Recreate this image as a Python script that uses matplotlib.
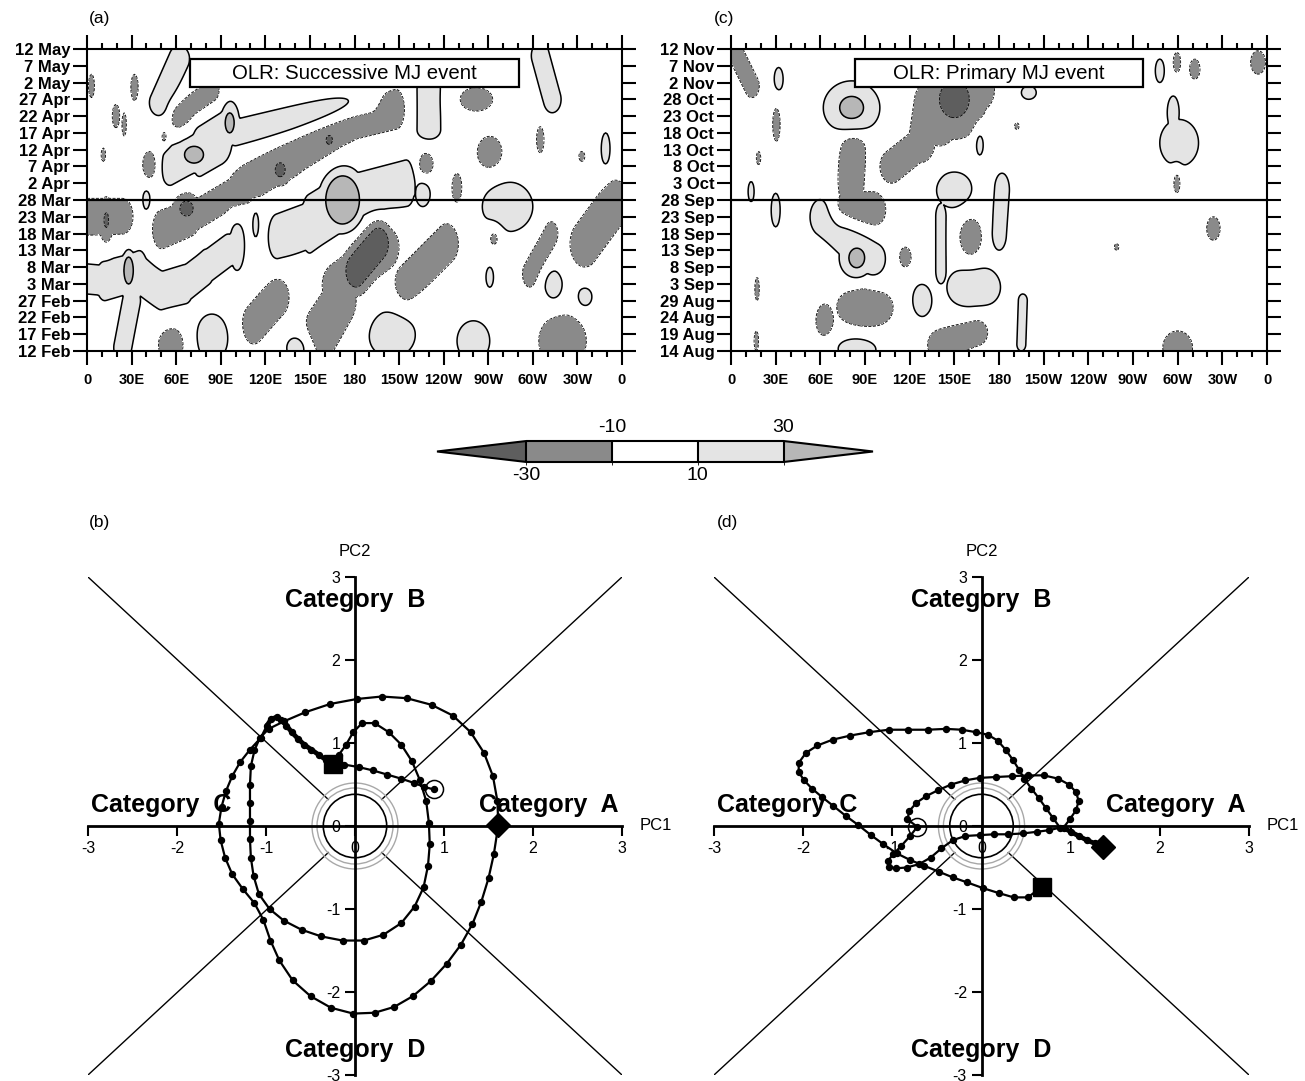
import numpy as np
import matplotlib
matplotlib.use("Agg")
import matplotlib.pyplot as plt
from matplotlib.colors import ListedColormap, BoundaryNorm
from matplotlib.patches import Rectangle, Ellipse
from matplotlib.transforms import blended_transform_factory

plt.rcParams["font.family"] = ["Liberation Sans", "DejaVu Sans"]
plt.rcParams["axes.unicode_minus"] = False

# ---------------------------------------------------------------- data
lon_labels = ["0", "30E", "60E", "90E", "120E", "150E", "180",
              "150W", "120W", "90W", "60W", "30W", "0"]
dates_a = ["12 Feb", "17 Feb", "22 Feb", "27 Feb", "3 Mar", "8 Mar", "13 Mar",
           "18 Mar", "23 Mar", "28 Mar", "2 Apr", "7 Apr", "12 Apr", "17 Apr",
           "22 Apr", "27 Apr", "2 May", "7 May", "12 May"]
dates_c = ["14 Aug", "19 Aug", "24 Aug", "29 Aug", "3 Sep", "8 Sep", "13 Sep",
           "18 Sep", "23 Sep", "28 Sep", "3 Oct", "8 Oct", "13 Oct", "18 Oct",
           "23 Oct", "28 Oct", "2 Nov", "7 Nov", "12 Nov"]
olr_levels = [-30, -10, 10, 30]

# OLR anomaly features (W m-2): lon0, day0, lon1, day1, lon radius, day radius, peak
olr_a = [
    # enhanced (positive) anomalies
    (49, 74, 62, 87, 7, 4, 20),
    (56, 55, 76, 60, 6, 6, 22), (76, 60, 92, 64, 6, 8.5, 22), (72, 58.5, 72, 58.5, 14, 5.5, 40),
    (96, 68, 96, 68, 6.6, 6.6, 40), (100, 65, 190, 74.5, 6, 4, 21),
    (230, 66, 230, 78, 8, 3, 20), (313, 75, 305, 88, 6, 4, 20), (349, 60, 349, 60, 3, 5, 18),
    (40, 45, 40, 45, 2.5, 3, 18), (113.5, 38, 113.5, 38, 2, 4, 18),
    (128, 34, 150, 37.5, 6, 7, 22), (150, 38, 172, 44, 6, 9, 22), (172, 45, 215, 50, 6, 7, 22),
    (226, 47, 226, 47, 5, 4, 18), (172, 45, 172, 45, 16.5, 10.5, 80),
    (283, 43, 283, 43, 17, 7.5, 22), (271, 22, 271, 22, 2.5, 3, 18),
    (314, 19.5, 314, 19.5, 6, 4.5, 20), (335, 16, 335, 16, 5, 3, 20), (205, 5, 205, 5, 16, 7, 20),
    (260, 3, 260, 3, 11, 6, 20), (142, 1, 142, 1, 8, 4, 20), (84, 4, 84, 4, 11, 7, 20),
    (0, 21.5, 12, 21, 6, 4.5, 21), (12, 21, 35, 24, 6, 6, 21), (35, 23, 50, 18, 6, 6, 21),
    (50, 18, 66, 20, 6, 6, 21), (66, 20, 80, 25, 6, 5.5, 21), (80, 25, 95, 30, 6, 5, 21),
    (101, 31.5, 101, 31.5, 5, 7.5, 21), (24, 1, 30, 15, 6, 4, 20), (28, 24, 28, 24, 5, 6.5, 60),
    # suppressed (negative) anomalies
    (62, 70, 84, 77, 6, 4, -20),
    (50, 36, 70, 40, 6, 6, -22), (70, 40, 100, 48, 6, 5, -22), (100, 48, 140, 58, 6, 6, -22),
    (140, 58, 180, 69, 6, 6, -22), (180, 69, 208, 72, 6, 6, -22),
    (67, 42.5, 67, 42.5, 10, 5, -40), (130, 54, 130, 54, 8, 5, -38), (163, 63, 163, 63, 6, 4, -36),
    (112, 8, 128, 16, 8, 6, -22), (158, 6, 170, 14, 12, 8, -22), (168, 20, 200, 31, 10, 7, -24),
    (181, 24, 196, 32, 11, 8, -60), (215, 20, 242, 32, 8, 6, -22),
    (262, 75, 262, 75, 11, 3.5, -20), (228, 55.5, 228, 55.5, 5, 3.5, -20), (271, 59, 271, 59, 8.5, 5, -20),
    (305, 63, 305, 63, 2.5, 4, -18), (333, 58, 333, 58, 2, 1.5, -16), (249, 48.5, 249, 48.5, 3.5, 4.5, -18),
    (335, 32, 355, 44, 10, 7, -22), (0, 40, 24, 40, 7, 5.5, -22), (13, 39, 13, 39, 5, 7, -34),
    (274, 34, 274, 34, 4, 3, -18), (298, 23, 312, 35, 5, 4, -20), (320, 3, 320, 3, 16, 8, -22),
    (3, 79, 3, 79, 2, 3.5, -18), (32, 78.5, 32, 78.5, 2.5, 4, -18), (19.5, 70, 19.5, 70, 2.5, 3.5, -18),
    (25, 67.5, 25, 67.5, 1.5, 3.5, -15), (11, 58.5, 11, 58.5, 1.5, 2, -15), (42, 55.5, 42, 55.5, 4.5, 4, -20),
    (52, 63.5, 52, 63.5, 2, 2, -16), (57, 2, 57, 2, 9, 5, -20),
]
olr_c = [
    (81, 72.5, 81, 72.5, 19, 8, 38), (32, 81, 32, 81, 3, 3.5, 18), (13.5, 47.5, 13.5, 47.5, 2, 3, 16),
    (30, 42, 30, 42, 3, 5, 17), (62, 40, 95, 27, 9, 6, 22), (84.5, 27.6, 84.5, 27.6, 12, 7, 40),
    (128, 15, 128, 15, 7, 5, 20), (85, 1, 85, 1, 14, 4, 20), (150, 48, 150, 48, 12, 5.5, 20),
    (141, 24, 141, 40, 3.5, 4, 17), (180, 35, 182, 48, 5, 5, 18), (163, 19, 163, 19, 18, 7, 22),
    (167, 62, 167, 62, 3, 4, 18), (195, 2, 196, 15, 3, 2, 18), (200, 77, 200, 77, 5, 2, 18),
    (288, 83.5, 288, 83.5, 3, 3.5, 18), (301, 62, 301, 62, 13, 7, 22), (297, 71, 297, 71, 4, 5, 20),
    (4, 88, 14, 79, 5, 3.5, -20), (30.5, 67.5, 30.5, 67.5, 2.5, 5, -18), (18.5, 57.5, 18.5, 57.5, 1.5, 2, -15),
    (17.5, 18.5, 17.5, 18.5, 1.5, 3.5, -16), (17, 3, 17, 3, 1.5, 3, -16), (80, 47, 82, 61, 9, 4, -22),
    (75, 42, 95, 42, 9, 5.5, -22), (108, 55, 128, 62, 8, 5, -22), (128, 62, 132, 74, 9, 6, -22),
    (140, 68, 165, 78, 12, 7, -24), (150, 75, 150, 75, 22, 12, -40), (117, 28, 117, 28, 4, 3, -18),
    (90, 13, 90, 13, 19, 7, -22), (63, 9, 63, 9, 6, 5, -20), (140, 2, 165, 6, 8, 4.5, -20),
    (161, 33.5, 161, 33.5, 7.5, 6.5, -22), (299.5, 86, 299.5, 86, 2.5, 3, -18),
    (311.5, 84, 311.5, 84, 3.5, 3, -18), (354, 86, 354, 86, 5, 3.5, -20),
    (299.5, 50.5, 299.5, 50.5, 2.5, 3.5, -18), (324, 36.5, 324, 36.5, 4.5, 3.5, -20),
    (259, 31, 259, 31, 1.5, 1, -15), (300, 1, 300, 1, 10, 5, -20), (192, 67, 192, 67, 1.5, 1, -15),
]

# daily (PC1, PC2) trajectories
pc1_b = [0.89, 0.78, 0.66, 0.52, 0.36, 0.20, 0.04, -0.12, -0.25,
         -0.33, -0.41, -0.49, -0.57, -0.64, -0.71, -0.77, -0.83, -0.88, -0.94, -0.99,
         -1.06, -1.18, -1.29, -1.38, -1.45, -1.50, -1.53, -1.51, -1.46, -1.38, -1.26, -1.13,
         -1.03, -0.95, -0.85, -0.70, -0.50, -0.27, -0.02, 0.22, 0.44, 0.65, 0.85, 1.03, 1.19,
         1.32, 1.42, 1.50, 1.56, 1.61, 1.60, 1.55, 1.45, 1.30, 1.10, 0.86, 0.58, 0.30, 0.02,
         -0.28, -0.56, -0.80, -0.97,
         -1.07, -1.13, -1.17, -1.18, -1.18, -1.18, -1.18, -1.17, -1.14, -1.08, -0.96, -0.80,
         -0.60, -0.38, -0.14, 0.10, 0.32, 0.52, 0.67, 0.77, 0.82, 0.84, 0.83, 0.80, 0.73, 0.64,
         0.52, 0.38, 0.22, 0.08, -0.02, -0.10, -0.18, -0.25]
pc2_b = [0.44, 0.47, 0.52, 0.57, 0.62, 0.67, 0.71, 0.74, 0.74,
         0.80, 0.86, 0.92, 0.98, 1.05, 1.13, 1.21, 1.28, 1.31, 1.29, 1.21,
         1.06, 0.92, 0.77, 0.60, 0.42, 0.23, 0.03, -0.17, -0.38, -0.58, -0.76, -0.93,
         -1.13, -1.38, -1.62, -1.86, -2.05, -2.19, -2.26, -2.25, -2.18, -2.05, -1.87, -1.66, -1.43,
         -1.18, -0.91, -0.63, -0.34, 0.01, 0.30, 0.60, 0.88, 1.13, 1.33, 1.46, 1.54, 1.56, 1.53,
         1.47, 1.37, 1.26, 1.17,
         1.06, 0.91, 0.72, 0.50, 0.28, 0.06, -0.16, -0.38, -0.60, -0.82, -1.00, -1.14,
         -1.25, -1.33, -1.38, -1.38, -1.31, -1.17, -0.97, -0.74, -0.48, -0.22, 0.04, 0.30, 0.55, 0.78,
         0.98, 1.13, 1.24, 1.24, 1.13, 0.98, 0.86, 0.75]
pc1_d = [1.36, 1.27, 1.18, 1.09, 1.00, 0.92,
         0.99, 1.06, 1.09, 1.06, 0.98, 0.86, 0.70, 0.52, 0.34, 0.16, -0.02, -0.18, -0.34,
         -0.49, -0.62, -0.73, -0.81, -0.83, -0.72,
         -0.80, -0.90, -0.99, -1.05, -1.04, -0.96, -0.84, -0.70, -0.57,
         -0.45, -0.32, -0.18, -0.02, 0.14, 0.30, 0.46, 0.62, 0.76, 0.88,
         0.80, 0.72, 0.64, 0.56, 0.48, 0.42, 0.35, 0.27, 0.18, 0.07, -0.06, -0.22, -0.40, -0.60,
         -0.82, -1.04, -1.26, -1.47, -1.67, -1.84, -1.97, -2.05, -2.05, -1.99, -1.90, -1.79,
         -1.66, -1.52, -1.38, -1.24, -1.10, -0.95, -0.80, -0.64, -0.48, -0.32, -0.16, 0.02,
         0.20, 0.36, 0.52, 0.68]
pc2_d = [-0.25, -0.21, -0.17, -0.12, -0.07, -0.02,
         0.08, 0.19, 0.30, 0.41, 0.50, 0.57, 0.61, 0.61, 0.60, 0.59, 0.58, 0.55, 0.50,
         0.43, 0.36, 0.28, 0.18, 0.08, -0.01,
         -0.12, -0.24, -0.34, -0.42, -0.49, -0.51, -0.50, -0.46, -0.38,
         -0.27, -0.17, -0.12, -0.11, -0.10, -0.10, -0.09, -0.07, -0.05, -0.02,
         0.10, 0.22, 0.34, 0.45, 0.57, 0.68, 0.80, 0.92, 1.03, 1.10, 1.13, 1.16, 1.17, 1.16,
         1.16, 1.16, 1.13, 1.09, 1.04, 0.97, 0.88, 0.76, 0.65, 0.55, 0.45, 0.35,
         0.24, 0.12, 0.01, -0.11, -0.22, -0.33, -0.41, -0.48, -0.55, -0.62, -0.68, -0.75,
         -0.81, -0.86, -0.86, -0.73]
# marked days: (open circle, diamond, square)
marks_b = (0, 49, len(pc1_b) - 1)
marks_d = (24, 0, len(pc1_d) - 1)
# slow-moving stretches drawn with a heavier stroke (first, last day)
slow_b = (8, 19)
slow_d = (0, 5)

# ---------------------------------------------------------------- helpers
W, H = 1305, 1081
fig = plt.figure(figsize=(W / 100, H / 100), dpi=100)


def rect(x0, y0, x1, y1):
    return [x0 / W, 1 - y1 / H, (x1 - x0) / W, (y1 - y0) / H]


lon_grid = np.arange(0, 360.5, 1.0)
day_grid = np.arange(0, 90.01, 0.25)
LON, DAY = np.meshgrid(lon_grid, day_grid)


def olr_field(features):
    pos = np.zeros_like(LON)
    neg = np.zeros_like(LON)
    for lon0, d0, lon1, d1, rx, ry, peak in features:
        ax0, ay0, bx, by = lon0 / rx, d0 / ry, lon1 / rx, d1 / ry
        px, py = LON / rx, DAY / ry
        vx, vy = bx - ax0, by - ay0
        seg = vx * vx + vy * vy
        t = np.clip(((px - ax0) * vx + (py - ay0) * vy) / seg, 0, 1) if seg > 0 else 0.0
        d2 = (px - ax0 - t * vx) ** 2 + (py - ay0 - t * vy) ** 2
        val = peak * np.exp(-d2 * np.log(abs(peak) / 10.0))
        if peak > 0:
            pos = np.maximum(pos, val)
        else:
            neg = np.minimum(neg, val)
    return pos + neg


cmap = ListedColormap(["#8a8a8a", "#ffffff", "#e4e4e4"])
cmap.set_under("#5e5e5e")
cmap.set_over("#b7b7b7")
norm = BoundaryNorm(olr_levels, 3)


def hovmoller(box, features, ylabels, title, title_box):
    ax = fig.add_axes(rect(*box))
    z = olr_field(features)
    cf = ax.contourf(LON, DAY, z, levels=olr_levels, cmap=cmap, norm=norm, extend="both")
    ax.contour(LON, DAY, z, levels=[10, 30], colors="k", linewidths=1.1)
    ax.contour(LON, DAY, z, levels=[-30, -10], colors="k", linewidths=0.6, linestyles="dashed")
    ax.axhline(45, color="k", lw=1.6, zorder=4)
    ax.set_xlim(0, 360)
    ax.set_ylim(0, 90)
    ax.set_xticks(np.arange(0, 361, 30))
    ax.set_xticklabels(lon_labels)
    ax.set_xticks(np.arange(0, 361, 10), minor=True)
    ax.set_yticks(np.arange(0, 91, 5))
    ax.set_yticklabels(ylabels)
    ax.tick_params(which="both", direction="out", top=True, right=True, width=1.5)
    ax.tick_params(which="major", length=10)
    ax.tick_params(which="minor", length=4.5)
    ax.tick_params(axis="x", labelsize=10.5, pad=6)
    ax.tick_params(axis="y", labelsize=12, pad=2)
    for lbl in ax.get_xticklabels() + ax.get_yticklabels():
        lbl.set_fontweight("bold")
    for sp in ax.spines.values():
        sp.set_linewidth(1.5)
    bx0, bx1 = title_box
    ax.add_patch(Rectangle((bx0, 0.874), bx1 - bx0, 0.093, transform=ax.transAxes,
                           facecolor="white", edgecolor="k", lw=1.6, zorder=6))
    ax.text((bx0 + bx1) / 2, 0.92, title, transform=ax.transAxes, ha="center",
            va="center", fontsize=14.7, zorder=7)
    return cf


def phase(box, pc1, pc2, marks, slow):
    ax = fig.add_axes(rect(*box))
    ax.set_xlim(-3, 3)
    ax.set_ylim(-3, 3)
    ax.patch.set_alpha(0)
    for s in ["top", "right"]:
        ax.spines[s].set_visible(False)
    for s in ["left", "bottom"]:
        ax.spines[s].set_position(("data", 0))
        ax.spines[s].set_linewidth(2)
        ax.spines[s].set_zorder(3)
    ax.set_xticks(range(-3, 4))
    ax.set_yticks(range(-3, 4))
    ax.tick_params(direction="out", length=7, width=1.5, labelsize=11.5)
    for sx in (1, -1):
        for sy in (1, -1):
            ax.plot([3 * sx, 0.30 * sx], [3 * sy, 0.32 * sy], color="k", lw=1.0, zorder=2)
    for w, h, c, lw in [(0.966, 1.036, "#a8a8a8", 1.0), (0.854, 0.916, "#a8a8a8", 1.0),
                        (0.712, 0.764, "k", 1.2)]:
        ax.add_patch(Ellipse((0, 0), w, h, fill=False, ec=c, lw=lw, zorder=2.5))
    ax.plot(pc1, pc2, "-", color="k", lw=1.6, marker="o", ms=4.3, zorder=5)
    i0, i1 = slow
    ax.plot(pc1[i0:i1 + 1], pc2[i0:i1 + 1], "-", color="k", lw=3.4, zorder=5,
            solid_capstyle="round", solid_joinstyle="round")
    ic, idm, isq = marks
    ax.plot(pc1[ic], pc2[ic], "o", ms=13, mfc="none", mec="k", mew=1.1, zorder=6)
    ax.plot(pc1[idm], pc2[idm], "D", ms=12, color="k", zorder=6)
    ax.plot(pc1[isq], pc2[isq], "s", ms=13, color="k", zorder=6)
    kw = dict(ha="center", va="center", fontsize=18, fontweight="bold", zorder=7)
    ax.text(0, 2.72, "Category  B", **kw)
    ax.text(0, -2.70, "Category  D", **kw)
    ax.text(-2.18, 0.25, "Category  C", **kw)
    ax.text(2.18, 0.25, "Category  A", **kw)
    ax.text(3.38, 0.0, "PC1", ha="center", va="center", fontsize=12)
    ax.text(0, 3.31, "PC2", ha="center", va="center", fontsize=12)


# ---------------------------------------------------------------- figure
cf = hovmoller((87, 49, 622, 351), olr_a, dates_a, "OLR: Successive MJ event", (0.1925, 0.8075))
hovmoller((731, 49, 1267, 351), olr_c, dates_c, "OLR: Primary MJ event", (0.231, 0.769))

cax = fig.add_axes(rect(437, 441, 873, 462))
cb = fig.colorbar(cf, cax=cax, orientation="horizontal", extend="both",
                  extendfrac=0.348, drawedges=True)
cb.set_ticks([])
cb.outline.set_linewidth(1.5)
cb.dividers.set_linewidth(1.5)
tr = blended_transform_factory(cax.transData, cax.transAxes)
for v in (-10, 30):
    cax.text(v, 1.25, str(v), transform=tr, ha="center", va="bottom", fontsize=14)
for v in (-30, 10):
    cax.text(v, -0.25, str(v), transform=tr, ha="center", va="top", fontsize=14)

phase((88, 577, 622, 1075), pc1_b, pc2_b, marks_b, slow_b)
phase((714, 577, 1249, 1075), pc1_d, pc2_d, marks_d, slow_d)

for lab, x, y in [("(a)", 100, 18), ("(c)", 724, 18), ("(b)", 100, 522), ("(d)", 727, 522)]:
    fig.text(x / W, 1 - y / H, lab, ha="center", va="center", fontsize=12.5)

fig.savefig("out.png", dpi=100)
